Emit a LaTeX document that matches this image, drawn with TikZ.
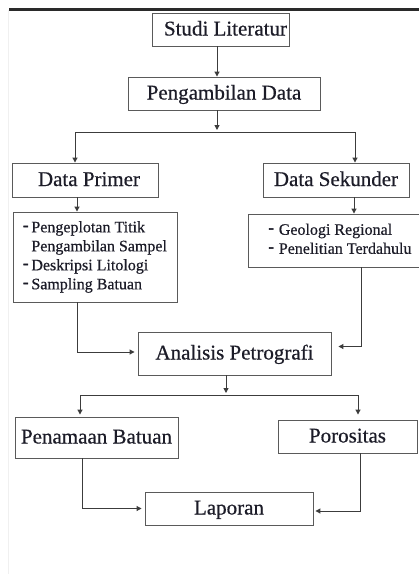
\documentclass[tikz,border=0pt]{standalone}
\usepackage{fontspec}
\setmainfont{Liberation Serif}[FakeBold=0.5]
\newfontfamily\dashfont{Liberation Serif}[FakeBold=2.5]
\usetikzlibrary{arrows.meta,calc}
\definecolor{txt}{HTML}{1C1C28}
\definecolor{edgecol}{HTML}{5A5A5A}
\definecolor{conncol}{HTML}{3C3C3C}
\definecolor{topcol}{HTML}{2A2A2A}
\newcommand{\dsh}{\raisebox{2pt}{\dashfont -}}
\begin{document}
\begin{tikzpicture}[x=1pt,y=-1pt,
  box/.style={draw=edgecol, line width=0.9pt, text=txt, inner sep=0pt,
    font=\fontsize{21}{24}\selectfont, text height=15.5pt, text depth=3.5pt},
  listbox/.style={draw=edgecol, line width=0.9pt, text=txt, inner sep=0pt,
    align=left, font=\fontsize{16}{19}\selectfont},
  conn/.style={draw=conncol, line width=1pt},
  arr/.style={conn, -{Triangle[length=5pt,width=5pt]}}]
\useasboundingbox (0,0) rectangle (419,574);
\fill[white] (0,0) rectangle (419,574);
\draw[gray!12, line width=1pt] (8.5,10) -- (8.5,574);
\draw[topcol, line width=2.6pt] (9,9.3) -- (419,9.3);

% boxes
\node[box, minimum width=137, minimum height=33] (studi) at (220.5,29.5) {\hspace*{10pt}Studi Literatur};
\node[box, minimum width=192, minimum height=33] (ambil) at (224,93.5) {Pengambilan Data};
\node[box, minimum width=146, minimum height=34] (primer) at (85,180) {\hspace*{8pt}Data Primer};
\node[box, minimum width=146, minimum height=34] (sekunder) at (336,180) {Data Sekunder};
\node[listbox, minimum width=164, minimum height=90] (listl) at (95,257)
  {\begin{tabular}{@{}l@{\hspace{3pt}}l@{}}\dsh&Pengeplotan Titik\\&Pengambilan Sampel\\\dsh&Deskripsi Litologi\\\dsh&Sampling Batuan\end{tabular}};
\node[listbox, minimum width=184, minimum height=53] (listr) at (340,240.5)
  {\begin{tabular}{@{}l@{\hspace{5pt}}l@{}}\dsh&Geologi Regional\\\dsh&Penelitian Terdahulu\end{tabular}};
\node[box, minimum width=193, minimum height=43] (analisis) at (234.5,353.5) {Analisis Petrografi};
\node[box, minimum width=163, minimum height=41] (penamaan) at (96.5,437.5) {Penamaan Batuan};
\node[box, minimum width=139, minimum height=33] (porositas) at (347.5,436.5) {Porositas};
\node[box, minimum width=168, minimum height=33] (laporan) at (229,508.5) {Laporan};

% helper coordinates
\coordinate (xa) at (217,0);
\coordinate (s1) at (217,132);
\coordinate (l1) at (75,132);
\coordinate (r1) at (355,132);
\coordinate (xl) at (77,0);
\coordinate (xr) at (354,0);
\coordinate (xl2) at (77,0);
\coordinate (xr2) at (361,0);
\coordinate (xb) at (226,0);
\coordinate (s2) at (226,395);
\coordinate (l2) at (80,395);
\coordinate (r2) at (358,395);
\coordinate (xl3) at (82,0);
\coordinate (xr3) at (360,0);

% connectors
\draw[arr] (studi.south -| xa) -- (ambil.north -| xa);
\draw[arr] (ambil.south -| xa) -- ([yshift=2pt]s1);
\draw[conn] (l1) -- (r1);
\draw[arr] (l1) -- (primer.north -| l1);
\draw[arr] (r1) -- (sekunder.north -| r1);
\draw[arr] (primer.south -| xl) -- (listl.north -| xl);
\draw[arr] (sekunder.south -| xr) -- (listr.north -| xr);
\draw[arr] (listl.south -| xl2) |- ([xshift=-3pt,yshift=1.5pt]analisis.west);
\draw[arr] (listr.south -| xr2) |- ([xshift=7pt,yshift=7pt]analisis.east);
\draw[arr] (analisis.south -| xb) -- ([yshift=2pt]s2);
\draw[conn] (l2) -- (r2);
\draw[arr, shorten >=2pt] (l2) -- (penamaan.north -| l2);
\draw[arr, shorten >=5pt] (r2) -- (porositas.north -| r2);
\draw[arr] (penamaan.south -| xl3) |- ([xshift=-3pt]laporan.west);
\draw[arr] (porositas.south -| xr3) |- ([xshift=2pt,yshift=-2.5pt]laporan.east);
\end{tikzpicture}
\end{document}
